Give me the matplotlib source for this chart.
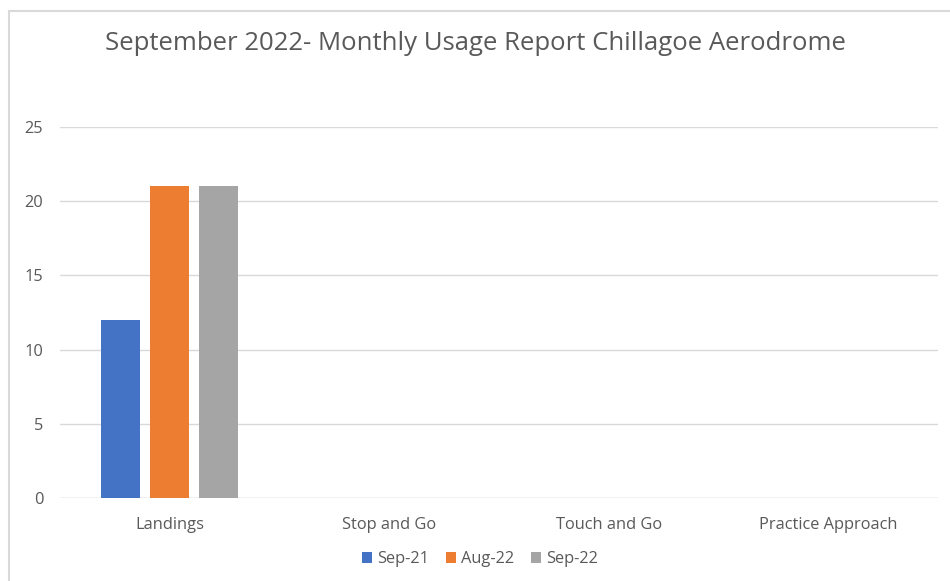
import numpy as np
import matplotlib
matplotlib.use('Agg')
import matplotlib.pyplot as plt
from matplotlib.patches import Rectangle

categories = ['Landings', 'Stop and Go', 'Touch and Go', 'Practice Approach']
series_names = ['Sep-21', 'Aug-22', 'Sep-22']
sep21 = [12, 0, 0, 0]
aug22 = [21, 0, 0, 0]
sep22 = [21, 0, 0, 0]
colors = ['#4472C4', '#ED7D31', '#A5A5A5']

plt.rcParams['font.family'] = ['Open Sans', 'DejaVu Sans']
text_col = '#595959'

fig = plt.figure(figsize=(9.5, 5.81), dpi=100)
ax = fig.add_axes([60/950, 1 - 498/581, (938 - 60)/950, (498 - 127)/581])

x = np.arange(len(categories))
width = 0.178  # bar width
step = 0.2235  # distance between bar centres
for i, vals in enumerate([sep21, aug22, sep22]):
    ax.bar(x + (i - 1) * step, vals, width, color=colors[i], label=series_names[i], zorder=3)

ax.set_xlim(-0.5, len(categories) - 0.5)
ax.set_ylim(0, 25)
ax.set_yticks([0, 5, 10, 15, 20, 25])
ax.set_xticks(x)
ax.set_xticklabels(categories)
ax.yaxis.grid(True, color='#D9D9D9', linewidth=1, zorder=0)
for s in ax.spines.values():
    s.set_visible(False)
ax.axhline(0, color='#D9D9D9', linewidth=1, zorder=2)
ax.tick_params(axis='both', length=0, labelsize=11.8, colors=text_col)
ax.tick_params(axis='y', pad=12)
ax.tick_params(axis='x', pad=13.5)

fig.text(0.5, 1 - 43/581, 'September 2022- Monthly Usage Report Chillagoe Aerodrome',
         ha='center', va='center', fontsize=18.5, color=text_col)

handles, labels = ax.get_legend_handles_labels()
leg = fig.legend(handles, labels, loc='center', bbox_to_anchor=(480/950, 1 - 559/581),
                 ncol=3, frameon=False, fontsize=11.8, handlelength=0.65, handleheight=0.65,
                 handletextpad=0.3, columnspacing=1.0, labelcolor=text_col)

# chart border (cropped on right and bottom)
fig.patches.append(Rectangle((8.5/950, -0.1), 1.2, 1 - 10.5/581 + 0.1, transform=fig.transFigure,
                             fill=False, edgecolor='#D9D9D9', linewidth=1.5))

fig.savefig('out.png', dpi=100)
